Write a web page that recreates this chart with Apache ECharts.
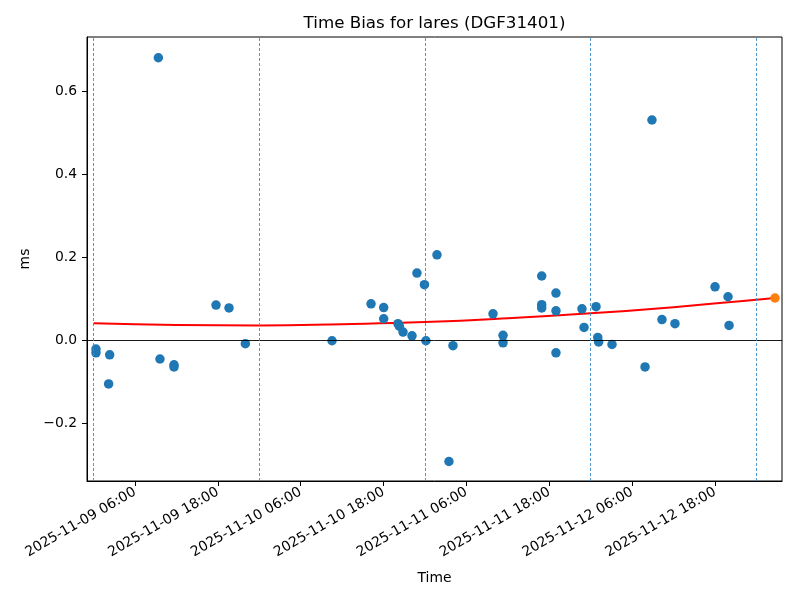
<!DOCTYPE html>
<html>
<head>
<meta charset="utf-8">
<script src="https://cdn.jsdelivr.net/npm/echarts@6/dist/echarts.min.js"></script>
<style>html,body{margin:0;padding:0;background:#fff}#c{width:800px;height:600px}</style>
</head>
<body>
<div id="c"></div>
<script>
// Observation times (UTC) and time bias values (ms)
const obsTimes = [
  '2025-11-09 00:21','2025-11-09 00:21','2025-11-09 02:20','2025-11-09 02:11',
  '2025-11-09 09:23','2025-11-09 09:37','2025-11-09 11:39','2025-11-09 11:39',
  '2025-11-09 17:44','2025-11-09 19:37','2025-11-09 21:59',
  '2025-11-10 10:32','2025-11-10 16:11','2025-11-10 18:01','2025-11-10 18:01',
  '2025-11-10 20:05','2025-11-10 20:17','2025-11-10 20:49','2025-11-10 22:07',
  '2025-11-10 22:50','2025-11-10 23:55',
  '2025-11-11 00:08','2025-11-11 01:44','2025-11-11 03:28','2025-11-11 04:03',
  '2025-11-11 09:51','2025-11-11 11:18','2025-11-11 11:18',
  '2025-11-11 16:54','2025-11-11 16:54','2025-11-11 16:54',
  '2025-11-11 18:58','2025-11-11 18:58','2025-11-11 18:58',
  '2025-11-11 22:44','2025-11-11 23:02',
  '2025-11-12 00:46','2025-11-12 01:01','2025-11-12 01:09','2025-11-12 03:05',
  '2025-11-12 07:52','2025-11-12 08:52','2025-11-12 10:19','2025-11-12 12:12',
  '2025-11-12 18:00','2025-11-12 19:53','2025-11-12 20:02'
];
const obsBias = [
  -0.022, -0.031, -0.036, -0.106,
  0.680, -0.046, -0.060, -0.065,
  0.084, 0.077, -0.009,
  -0.002, 0.087, 0.078, 0.051,
  0.039, 0.033, 0.019, 0.010,
  0.161, 0.133,
  -0.002, 0.205, -0.293, -0.014,
  0.063, 0.011, -0.007,
  0.154, 0.085, 0.077,
  0.113, 0.070, -0.031,
  0.075, 0.030,
  0.080, 0.006, -0.005, -0.011,
  -0.065, 0.530, 0.049, 0.039,
  0.128, 0.104, 0.035
];
// Predicted point
const predTime = ['2025-11-13 02:41'];
const predBias = [0.101];
// Trend curve
const trendTimes = ['2025-11-09 00:00','2025-11-09 12:00','2025-11-10 00:00','2025-11-10 12:00',
  '2025-11-11 00:00','2025-11-11 12:00','2025-11-12 00:00','2025-11-12 12:00',
  '2025-11-13 00:00','2025-11-13 02:41'];
const trendBias = [0.040, 0.036, 0.035, 0.038, 0.043, 0.052, 0.064, 0.079, 0.097, 0.101];
// Day boundaries (dashed lines)
const dayLines = ['2025-11-09 00:00','2025-11-10 00:00','2025-11-11 00:00','2025-11-12 00:00','2025-11-13 00:00'];
// Tick labels
const xTicks = ['2025-11-09 06:00','2025-11-09 18:00','2025-11-10 06:00','2025-11-10 18:00',
  '2025-11-11 06:00','2025-11-11 18:00','2025-11-12 06:00','2025-11-12 18:00'];
const yTicks = [-0.2, 0.0, 0.2, 0.4, 0.6];
const xRange = ['2025-11-08 23:03','2025-11-13 03:42'];
const yRange = [-0.34, 0.73];

const T = s => Date.parse(s.replace(' ', 'T') + ':00Z');
const fmtT = v => { const d = new Date(v).toISOString(); return d.slice(0,10) + ' ' + d.slice(11,16); };
const FONT = 'DejaVu Sans';

const chart = echarts.init(document.getElementById('c'), null, {renderer: 'canvas'});
chart.setOption({
  animation: false,
  backgroundColor: '#fff',
  textStyle: {fontFamily: FONT, color: '#000'},
  title: {
    text: 'Time Bias for lares (DGF31401)',
    left: 429.5, top: 10, textAlign: 'center',
    textStyle: {fontFamily: FONT, fontSize: 16.7, fontWeight: 'normal', color: '#000'}
  },
  grid: {left: 87, right: 18, top: 37, bottom: 119, show: true, borderColor: '#000', borderWidth: 1, backgroundColor: 'transparent'},
  xAxis: {
    type: 'value',
    min: T(xRange[0]), max: T(xRange[1]),
    name: 'Time', nameLocation: 'middle', nameGap: 90,
    nameTextStyle: {fontFamily: FONT, fontSize: 13.9, color: '#000'},
    axisLine: {show: true, onZero: false, lineStyle: {color: '#000', width: 1}},
    axisTick: {show: true, length: 5, lineStyle: {color: '#000'}, customValues: xTicks.map(T)},
    axisLabel: {rotate: 30, margin: 10, fontFamily: FONT, fontSize: 13.9, color: '#000',
      customValues: xTicks.map(T), formatter: v => fmtT(v)},
    splitLine: {show: false}
  },
  yAxis: {
    type: 'value',
    min: yRange[0], max: yRange[1],
    name: 'ms', nameLocation: 'middle', nameGap: 47,
    nameTextStyle: {fontFamily: FONT, fontSize: 13.9, color: '#000'},
    axisLine: {show: true, lineStyle: {color: '#000', width: 1}},
    axisTick: {show: true, length: 5, lineStyle: {color: '#000'}, customValues: yTicks},
    axisLabel: {margin: 10, fontFamily: FONT, fontSize: 13.9, color: '#000', customValues: yTicks,
      formatter: v => (v < 0 ? '\u2212' : '') + Math.abs(v).toFixed(1)},
    splitLine: {show: false}
  },
  series: [
    {
      type: 'line', name: 'trend', z: 3,
      data: trendTimes.map((t, i) => [T(t), trendBias[i]]),
      smooth: true, showSymbol: false, symbol: 'none',
      lineStyle: {color: '#ff0000', width: 2},
      markLine: {
        silent: true, symbol: 'none', label: {show: false},
        data: [
          {yAxis: 0, lineStyle: {color: '#000', width: 0.9, type: 'solid', opacity: 1}},
          ...dayLines.map(d => ({xAxis: T(d), lineStyle: {color: '#3b8bc8', width: 0.9, type: [3, 2], opacity: 1}}))
        ]
      }
    },
    {
      type: 'scatter', name: 'obs', z: 4,
      data: obsTimes.map((t, i) => [T(t), obsBias[i]]),
      symbolSize: 9.5, itemStyle: {color: '#1f77b4', opacity: 1}
    },
    {
      type: 'scatter', name: 'pred', z: 5,
      data: predTime.map((t, i) => [T(t), predBias[i]]),
      symbolSize: 9.5, itemStyle: {color: '#ff7f0e', opacity: 1}
    }
  ]
});
</script>
</body>
</html>
